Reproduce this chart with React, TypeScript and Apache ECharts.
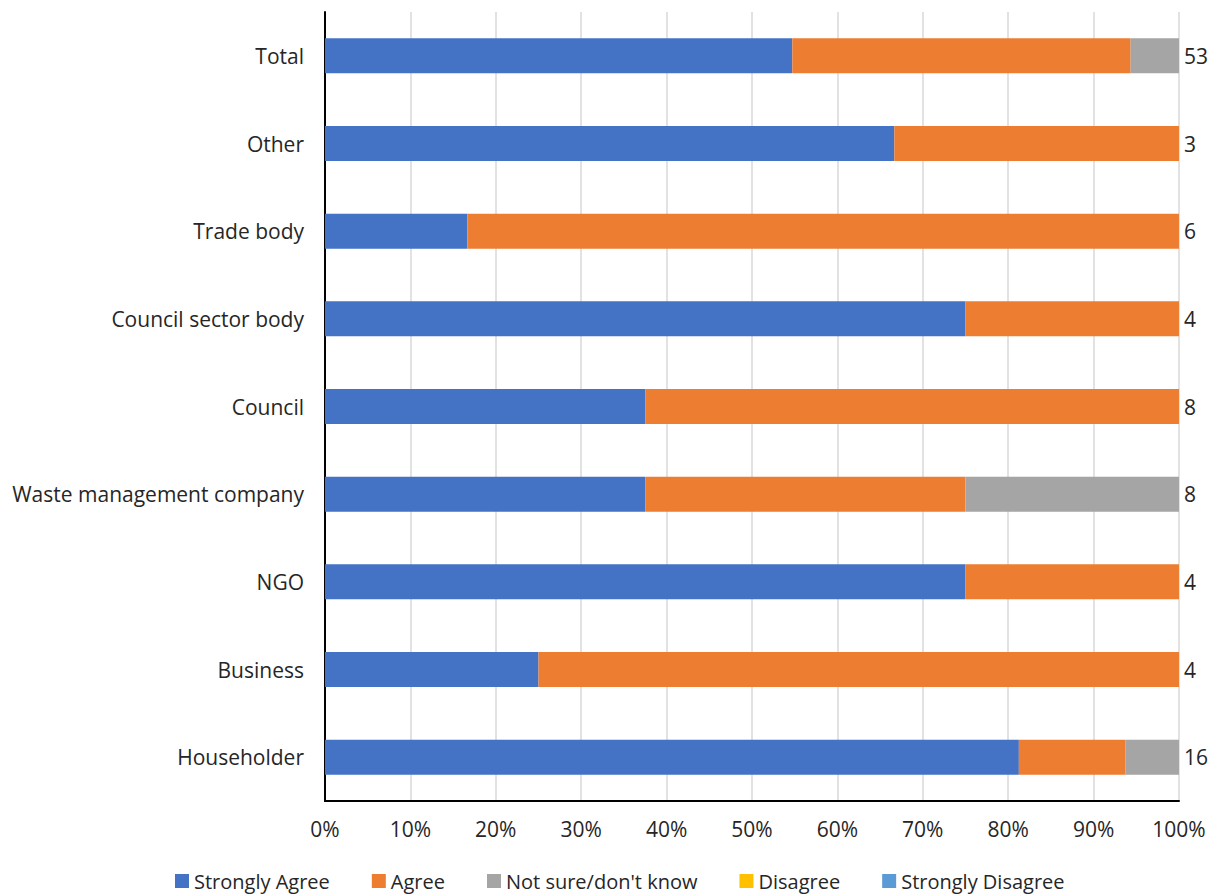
import React, { useEffect, useRef } from "react";
import * as echarts from "echarts";

const categories = [
  "Householder",
  "Business",
  "NGO",
  "Waste management company",
  "Council",
  "Council sector body",
  "Trade body",
  "Other",
  "Total",
];
const counts = ["16", "4", "4", "8", "8", "4", "6", "3", "53"];
const stronglyAgree = [81.25, 25, 75, 37.5, 37.5, 75, 16.67, 66.67, 54.72];
const agree = [12.5, 75, 25, 37.5, 62.5, 25, 83.33, 33.33, 39.62];
const notSure = [6.25, 0, 0, 25, 0, 0, 0, 0, 5.66];
const disagree = [0, 0, 0, 0, 0, 0, 0, 0, 0];
const stronglyDisagree = [0, 0, 0, 0, 0, 0, 0, 0, 0];
const xTicks = [0, 10, 20, 30, 40, 50, 60, 70, 80, 90, 100];

const seriesNames = ["Strongly Agree", "Agree", "Not sure/don't know", "Disagree", "Strongly Disagree"];
const seriesColors = ["#4472C4", "#ED7D31", "#A5A5A5", "#FFC000", "#5B9BD5"];
const seriesData = [stronglyAgree, agree, notSure, disagree, stronglyDisagree];

const FONT = "Open Sans";
const FS = 21;

export default function App() {
  const ref = useRef<HTMLDivElement>(null);
  useEffect(() => {
    if (!ref.current) return;
    const chart = echarts.init(ref.current, undefined, { renderer: "svg" });
    chart.setOption({
      animation: false,
      textStyle: { fontFamily: FONT },
      grid: { left: 325, right: 31, top: 12, bottom: 95, containLabel: false },
      legend: {
        top: 866,
        left: 170,
        itemWidth: 14,
        itemHeight: 14,
        itemGap: 42,
        icon: "rect",
        textStyle: { fontSize: FS - 1, color: "#262626", fontFamily: FONT },
        data: seriesNames,
      },
      xAxis: {
        type: "value",
        min: 0,
        max: 100,
        interval: 10,
        axisLine: { show: true, lineStyle: { color: "#000", width: 2 } },
        axisTick: { show: false },
        splitLine: { show: true, lineStyle: { color: "#d9d9d9", width: 1.5 } },
        axisLabel: {
          fontSize: FS,
          color: "#262626",
          margin: 17,
          fontFamily: FONT,
          formatter: (v: number) => (xTicks.includes(v) ? v + "%" : ""),
        },
      },
      yAxis: [
        {
          type: "category",
          data: categories,
          axisLine: { show: true, lineStyle: { color: "#000", width: 2 } },
          axisTick: { show: false },
          axisLabel: { fontSize: FS, color: "#262626", margin: 21, fontFamily: FONT },
        },
        {
          type: "category",
          data: counts,
          position: "right",
          axisLine: { show: false },
          axisTick: { show: false },
          axisLabel: { fontSize: FS, color: "#262626", margin: 5, fontFamily: FONT },
        },
      ],
      series: seriesNames.map((name, i) => ({
        name,
        type: "bar",
        stack: "total",
        yAxisIndex: 0,
        barWidth: 35,
        data: seriesData[i],
        itemStyle: { color: seriesColors[i] },
      })),
    });
    return () => chart.dispose();
  }, []);
  return (
    <div
      ref={ref}
      style={{ position: "fixed", left: 0, top: 0, width: 1211, height: 896, background: "#fff" }}
    />
  );
}
